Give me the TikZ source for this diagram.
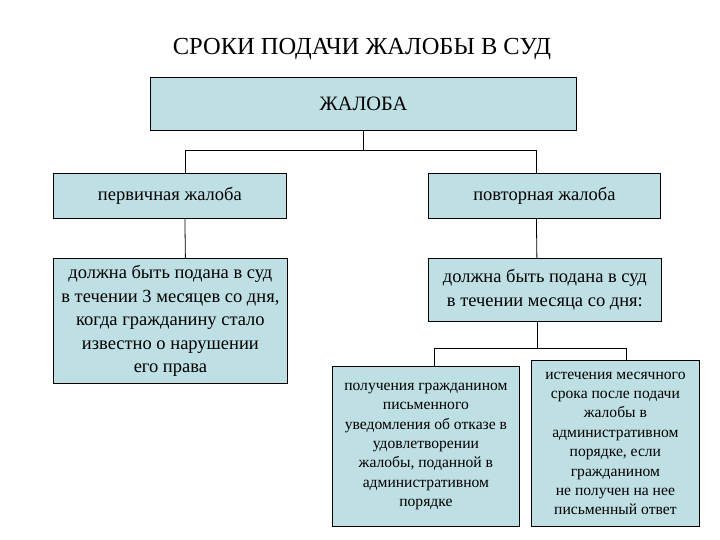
\documentclass[tikz,border=0pt]{standalone}
\usepackage{fontspec}
\setmainfont{Liberation Serif}
\usetikzlibrary{positioning}
\definecolor{boxfill}{RGB}{190,223,227}

\begin{document}
\begin{tikzpicture}[x=1pt,y=-1pt,font=\fontsize{18.5}{23.5}\selectfont,
  box/.style={draw=black,line width=0.8pt,fill=boxfill,anchor=north west,
    inner sep=0pt,align=center},
  small/.style={font=\fontsize{15.6}{19.4}\selectfont},
  link/.style={draw=black,line width=0.8pt}]
\useasboundingbox (0,0) rectangle (720,540);
\node[font=\fontsize{24.5}{28}\selectfont] (title) at (362,49) {СРОКИ ПОДАЧИ ЖАЛОБЫ В СУД};
\node[box,minimum width=426,minimum height=53,font=\fontsize{20.4}{24}\selectfont] (top) at (150,77) {ЖАЛОБА};
\node[box,minimum width=233,minimum height=45] (first) at (53,173) {первичная жалоба};
\node[box,minimum width=232,minimum height=45] (second) at (428,173) {повторная жалоба};
\node[box,minimum width=234,minimum height=125] (firstterm) at (53,258)
  {должна быть подана в суд\\в течении 3 месяцев со дня,\\когда гражданину стало\\известно о нарушении\\его права};
\node[box,minimum width=233,minimum height=63] (secondterm) at (428,258)
  {должна быть подана в суд\\в течении месяца со дня:};
\node[box,small,minimum width=187,minimum height=160] (refusal) at (332,366)
  {получения гражданином\\письменного\\уведомления об отказе в\\удовлетворении\\жалобы, поданной в\\административном\\порядке};
\node[box,small,minimum width=168,minimum height=166] (noanswer) at (531,360)
  {истечения месячного\\срока после подачи\\жалобы в\\административном\\порядке, если\\гражданином\\не получен на нее\\письменный ответ};
% connectors
\draw[link] (top.south) -- ++(0,20) coordinate (busA);
\draw[link] ([xshift=15pt]first.north) |- (busA) -| ([xshift=-8pt]second.north);
\draw[link] ([xshift=15pt]first.south) -- ([xshift=15pt]firstterm.north);
\draw[link] ([xshift=-8pt]second.south) -- ([xshift=-8pt]secondterm.north);
\draw[link] ([xshift=-8pt]secondterm.south) -- ++(0,27) coordinate (busB);
\draw[link] ([xshift=8pt]refusal.north) |- (busB) -| ([xshift=11pt]noanswer.north);
\end{tikzpicture}
\end{document}
